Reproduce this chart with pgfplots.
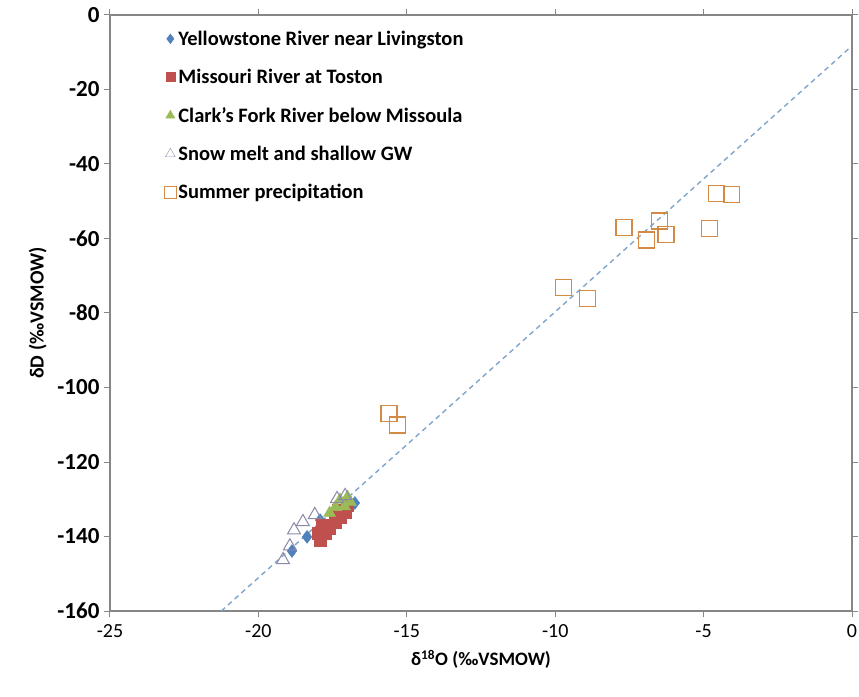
\documentclass[border=0pt]{standalone}
\usepackage{pgfplots}
\pgfplotsset{compat=1.18}
\usepackage{fontspec}
\setmainfont{Carlito}
\definecolor{ybl}{HTML}{4F81BD}
\definecolor{mred}{HTML}{C0504D}
\definecolor{cgr}{HTML}{9BBB59}
\definecolor{snow}{HTML}{8A8AA8}
\definecolor{sumo}{HTML}{D38A45}
\definecolor{gline}{HTML}{7FA5CC}
\definecolor{axg}{HTML}{868686}
\begin{document}
\begin{tikzpicture}[x=1pt,y=1pt]
\begin{axis}[
  name=ax,
  scale only axis,
  width=742pt, height=596pt,
  xmin=-25, xmax=0, ymin=-160, ymax=0,
  xtick={-25,-20,...,0}, ytick={-160,-140,...,0},
  /pgf/number format/assume math mode=true,
  axis line style={axg, line width=1.2pt},
  tick style={axg, line width=1pt},
  tick align=outside, major tick length=6pt,
  xticklabel style={font=\fontsize{20}{24}\selectfont, yshift=-4pt},
  yticklabel style={font=\bfseries\fontsize{23}{26}\selectfont, xshift=-1pt},
  xlabel={δ\textsuperscript{18}O (‰VSMOW)},
  ylabel={δD (‰VSMOW)},
  xlabel style={font=\bfseries\fontsize{19}{24}\selectfont, yshift=-6pt},
  ylabel style={font=\bfseries\fontsize{20}{24}\selectfont, yshift=4pt},
  legend style={at={(0.073,0.977)}, anchor=north west, draw=none, fill=none,
    font=\bfseries\fontsize{20.5}{22}\selectfont, row sep=18.3pt,
    legend cell align=left, inner sep=0pt},
  legend image code/.code={\draw[#1, mark options={scale=0.75}] plot coordinates {(0pt,0pt)};},
  clip=false,
]
\addplot[gline, line width=1.4pt, dash pattern=on 5pt off 4pt, forget plot] coordinates {(-21.25,-160) (-0.1,-9)};
\addplot[only marks, mark=diamond*, mark size=6.5pt, color=ybl, fill=ybl] coordinates {
(-18.87,-143.9) (-18.36,-140.1) (-17.92,-135.6) (-16.75,-131.0)};
\addlegendentry{Yellowstone River near Livingston}
\addplot[only marks, mark=square*, mark size=6pt, color=mred, fill=mred] coordinates {
(-17.92,-141.0) (-17.99,-139.0) (-17.76,-139.0) (-17.60,-137.7) (-17.86,-136.9)
(-17.42,-136.1) (-17.25,-134.8) (-17.08,-133.4) (-17.02,-131.5) (-17.30,-132.9)};
\addlegendentry{Missouri River at Toston}
\addplot[only marks, mark=triangle*, mark size=7pt, color=cgr, fill=cgr] coordinates {
(-17.25,-130.2) (-17.00,-129.4) (-17.40,-132.1) (-17.10,-131.9) (-16.90,-130.8) (-17.60,-133.7)};
\addlegendentry{Clark's Fork River below Missoula}
\addplot[only marks, mark=triangle, mark size=7.5pt, color=snow, mark options={draw=snow, fill=white, line width=1pt}] coordinates {
(-19.17,-146.3) (-18.94,-142.6) (-18.80,-138.3) (-18.50,-136.1) (-18.10,-134.2) (-17.35,-129.9) (-17.08,-129.1)};
\addlegendentry{Snow melt and shallow GW}
\addplot[only marks, mark=square, mark size=8pt, color=sumo, mark options={line width=1.3pt}] coordinates {
(-4.56,-47.9) (-4.06,-48.1) (-4.81,-57.4) (-7.68,-57.1) (-6.49,-55.3) (-6.27,-58.9)
(-6.92,-60.4) (-9.73,-73.2) (-8.92,-76.1) (-15.60,-106.9) (-15.32,-110.1)};
\addlegendentry{Summer precipitation}
\end{axis}
\pgfresetboundingbox
\path[use as bounding box] ([xshift=-110pt,yshift=-85pt]ax.south west) rectangle ([xshift=7pt,yshift=15pt]ax.north east);
\end{tikzpicture}
\end{document}
